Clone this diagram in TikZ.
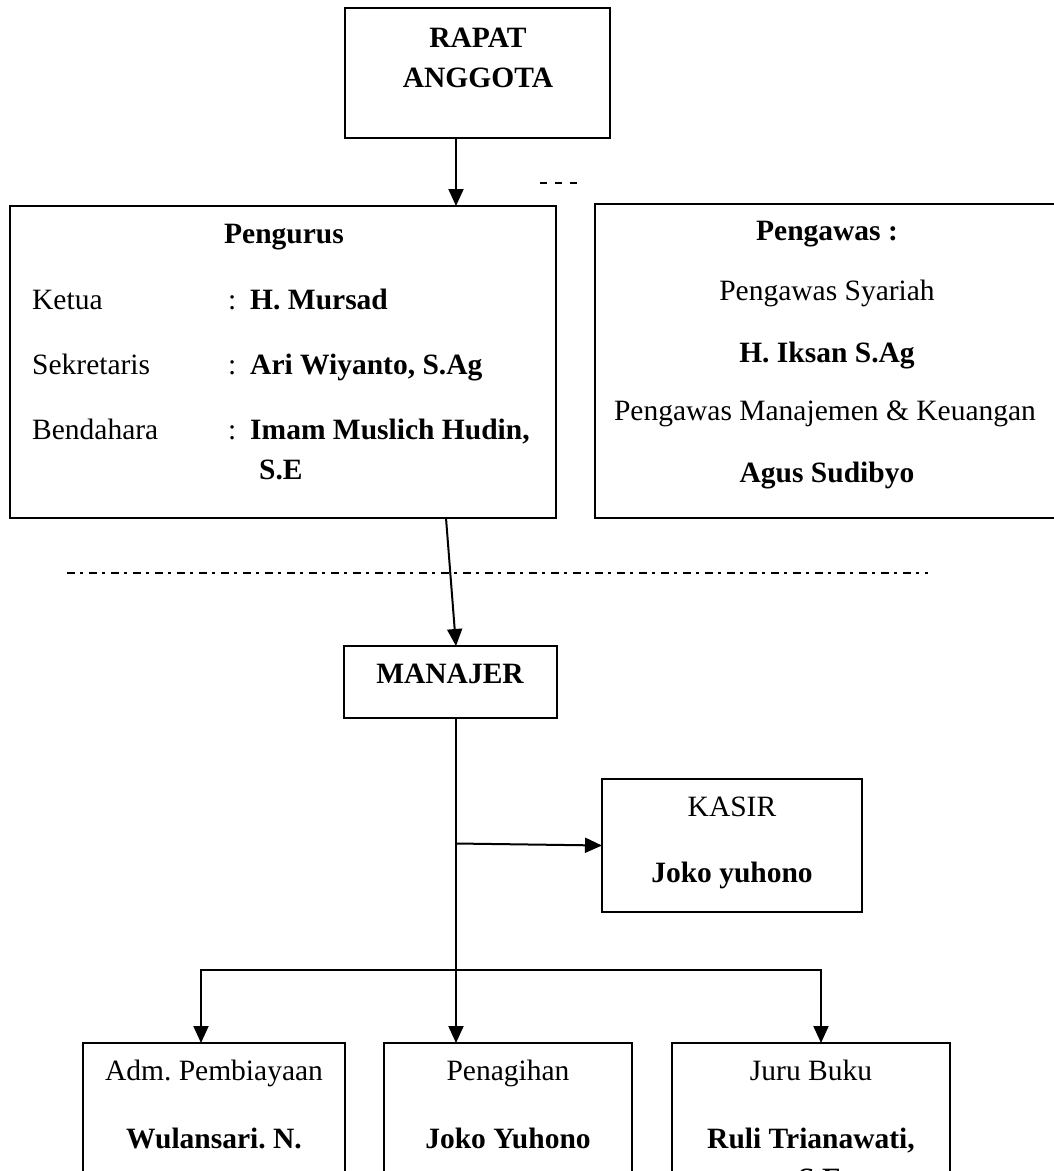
\documentclass[tikz,border=0pt]{standalone}
\usepackage{fontspec}
\setmainfont{Liberation Serif}
\usetikzlibrary{arrows.meta}
\frenchspacing
\begin{document}
\begin{tikzpicture}[x=1pt,y=-1pt,
  box/.style={draw, line width=1.6pt, rectangle, inner sep=0pt, outer sep=0pt},
  conn/.style={line width=2pt},
  arr/.style={conn, -{Triangle[length=17pt,width=15pt]}},
  txt/.style={inner sep=0pt, font=\fontsize{29.5}{35}\selectfont},
  btxt/.style={inner sep=0pt, font=\fontsize{29.5}{35}\selectfont\bfseries},
]
\useasboundingbox (0,0) rectangle (1054,1171);
\clip (0,0) rectangle (1054,1171);
\fill[white] (0,0) rectangle (1054,1171);

% boxes
\node[box, minimum width=265pt, minimum height=130pt] (rapat) at (477.5,73) {};
\node[box, minimum width=546pt, minimum height=312pt] (pengurus) at (283,362) {};
\node[box, minimum width=465pt, minimum height=314pt] (pengawas) at (827.5,361) {};
\node[box, minimum width=213pt, minimum height=72pt] (manajer) at (450.5,682) {};
\node[box, minimum width=260pt, minimum height=133pt] (kasir) at (732,845.5) {};
\node[box, minimum width=262pt, minimum height=187pt] (adm) at (214,1136.5) {};
\node[box, minimum width=248pt, minimum height=187pt] (penagihan) at (508,1136.5) {};
\node[box, minimum width=278pt, minimum height=187pt] (juru) at (811,1136.5) {};

% texts
\node[btxt, anchor=base] (t1) at (478,47) {RAPAT};
\node[btxt, anchor=base] (t2) at (478,87) {ANGGOTA};

\node[btxt, anchor=base] (p0) at (284,243) {Pengurus};
\node[txt, anchor=base west] (p1) at (32,309) {Ketua};
\node[txt, anchor=base west] (p1c) at (228,309) {:};
\node[btxt, anchor=base west] (p1n) at (250,309) {H. Mursad};
\node[txt, anchor=base west] (p2) at (32,374) {Sekretaris};
\node[txt, anchor=base west] (p2c) at (228,374) {:};
\node[btxt, anchor=base west] (p2n) at (250,374) {Ari Wiyanto, S.Ag};
\node[txt, anchor=base west] (p3) at (32,439) {Bendahara};
\node[txt, anchor=base west] (p3c) at (228,439) {:};
\node[btxt, anchor=base west] (p3n) at (250,439) {Imam Muslich Hudin,};
\node[btxt, anchor=base west] (p3m) at (259,479) {S.E};

\node[btxt, anchor=base] (w0) at (827,240) {Pengawas :};
\node[txt, anchor=base] (w1) at (827,300) {Pengawas Syariah};
\node[btxt, anchor=base] (w2) at (827,362) {H. Iksan S.Ag};
\node[txt, anchor=base] (w3) at (825,420) {Pengawas Manajemen \& Keuangan};
\node[btxt, anchor=base] (w4) at (827,482) {Agus Sudibyo};

\node[btxt, anchor=base] (m0) at (450,683) {MANAJER};

\node[txt, anchor=base] (k0) at (732,816) {KASIR};
\node[btxt, anchor=base] (k1) at (732,882) {Joko yuhono};

\node[txt, anchor=base] (a0) at (214,1080) {Adm. Pembiayaan};
\node[btxt, anchor=base] (a1) at (214,1148) {Wulansari. N.};
\node[txt, anchor=base] (g0) at (508,1080) {Penagihan};
\node[btxt, anchor=base] (g1) at (508,1148) {Joko Yuhono};
\node[txt, anchor=base] (j0) at (811,1080) {Juru Buku};
\node[btxt, anchor=base] (j1) at (811,1148) {Ruli Trianawati,};
\node[btxt, anchor=base] (j2) at (820,1188) {S.E};

% helper coordinates
\coordinate (tx) at (456,0);
\coordinate (px) at (446,0);
\coordinate (lx) at (201,0);
\coordinate (rx) at (821,0);
\coordinate (kj) at (456,843.5);
\coordinate (hj) at (456,970);
\coordinate (d1) at (540,183);
\coordinate (d2) at (577,183);
\coordinate (l1) at (67,573);
\coordinate (l2) at (928,573);

% connectors
\draw[arr] (rapat.south -| tx) -- (pengurus.north -| tx);
\draw[arr] (pengurus.south -| px) -- (manajer.north -| tx);
\draw[arr] (manajer.south -| tx) -- (penagihan.north -| tx);
\draw[arr] (kj) -- (kasir.west);
\draw[arr] (hj) -| (adm.north -| lx);
\draw[arr] (hj) -| (juru.north -| rx);

% dashed marks
\draw[line width=1.5pt, dash pattern=on 7pt off 8pt] (d1) -- (d2);
\draw[line width=1.5pt, dash pattern=on 8pt off 5pt on 2.5pt off 6.5pt] (l1) -- (l2);
\end{tikzpicture}
\end{document}
